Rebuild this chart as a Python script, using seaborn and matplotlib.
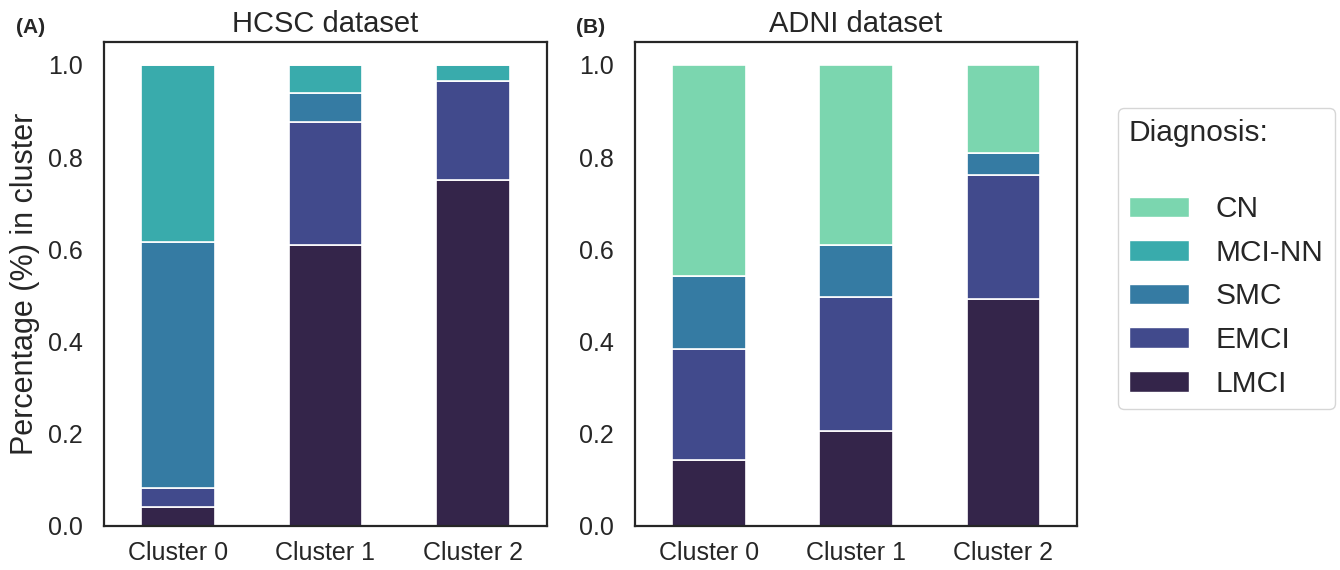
import pandas as pd
import matplotlib
matplotlib.use("Agg")
import matplotlib.pyplot as plt
from matplotlib.patches import Patch
import seaborn as sns


# Share of each diagnosis inside each cluster
clusters = ['Cluster 0', 'Cluster 1', 'Cluster 2']
diagnoses = ['CN', 'MCI-NN', 'SMC', 'EMCI', 'LMCI']
colors = ['#7bd6af', '#39abac', '#357ba3', '#414a8c', '#34254a']

hcsc_lmci = [0.041, 0.610, 0.751]
hcsc_emci = [0.041, 0.266, 0.214]
hcsc_smc = [0.534, 0.063, 0.0]
hcsc_mcinn = [0.384, 0.061, 0.035]
hcsc_cn = [0.0, 0.0, 0.0]

adni_lmci = [0.143, 0.205, 0.493]
adni_emci = [0.240, 0.292, 0.267]
adni_smc = [0.160, 0.112, 0.048]
adni_mcinn = [0.0, 0.0, 0.0]
adni_cn = [0.457, 0.391, 0.192]


def to_long(cn, mcinn, smc, emci, lmci):
    rows = []
    for name, vals in zip(diagnoses, [cn, mcinn, smc, emci, lmci]):
        for c, v in zip(clusters, vals):
            rows.append({'cluster': c, 'diagnosis': name, 'share': v})
    return pd.DataFrame(rows)


hcsc = to_long(hcsc_cn, hcsc_mcinn, hcsc_smc, hcsc_emci, hcsc_lmci)
adni = to_long(adni_cn, adni_mcinn, adni_smc, adni_emci, adni_lmci)

sns.set_theme(style='white')
plt.rcParams['font.family'] = ['Liberation Sans', 'DejaVu Sans']

fig = plt.figure(figsize=(13.4, 5.7), dpi=100)
ax1 = fig.add_axes([0.0776, 0.0772, 0.3306, 0.8496])
ax2 = fig.add_axes([0.4739, 0.0772, 0.3299, 0.8496])

palette = dict(zip(diagnoses, colors))
for ax, df, title in [(ax1, hcsc, 'HCSC dataset'), (ax2, adni, 'ADNI dataset')]:
    sns.histplot(data=df, x='cluster', weights='share', hue='diagnosis',
                 hue_order=diagnoses, palette=palette, multiple='stack',
                 discrete=True, shrink=0.5, alpha=1, edgecolor='white',
                 linewidth=1.2, legend=False, ax=ax)
    ax.set_xlim(-0.5, 2.5)
    ax.set_ylim(0, 1.05)
    ax.set_yticks([0.0, 0.2, 0.4, 0.6, 0.8, 1.0])
    ax.set_xticks([0, 1, 2])
    ax.set_xticklabels(clusters)
    ax.set_xlabel('')
    ax.set_ylabel('')
    ax.set_title(title, fontsize=21, pad=7)
    ax.tick_params(axis='x', length=0, pad=11, labelsize=18)
    ax.tick_params(axis='y', length=0, pad=15, labelsize=18)
    for s in ax.spines.values():
        s.set_color('#262626')
        s.set_linewidth(1.6)

ax1.set_ylabel('Percentage (%) in cluster', fontsize=22, labelpad=6)

fig.text(0.012, 0.952, '(A)', fontsize=15, fontweight='bold', va='center')
fig.text(0.430, 0.952, '(B)', fontsize=15, fontweight='bold', va='center')

handles = [Patch(facecolor=palette[d], edgecolor='white') for d in diagnoses]
leg = fig.legend(handles, diagnoses, title='Diagnosis:\n', loc='center left',
                 bbox_to_anchor=(0.834, 0.5465), fontsize=21.5, title_fontsize=21.5,
                 handlelength=2.0, handleheight=0.7, handletextpad=0.9,
                 alignment='left', frameon=True, borderpad=0.38,
                 labelspacing=0.52, borderaxespad=0)
leg.get_frame().set_edgecolor('#cccccc')

fig.savefig('out.png', dpi=100)
